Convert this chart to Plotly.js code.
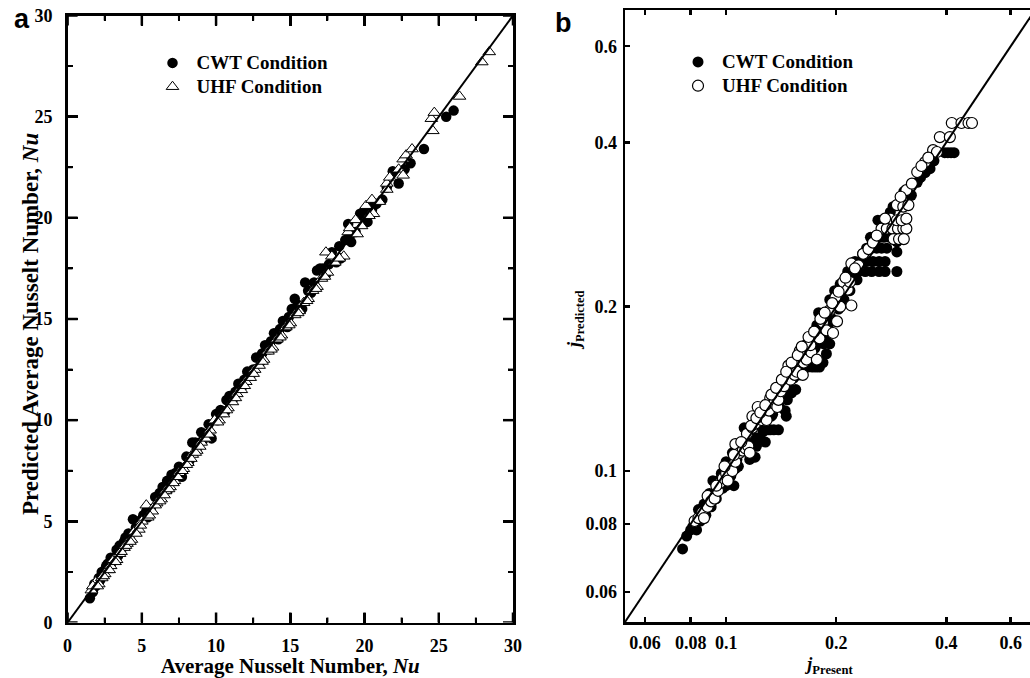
<!DOCTYPE html>
<html><head><meta charset="utf-8">
<script src="https://cdn.plot.ly/plotly-3.0.1.min.js"></script>
<style>html,body{margin:0;padding:0;overflow:hidden;background:#fff}#chart{width:1040px;height:678px}</style>
</head><body><div id="chart"></div>
<script>
// ---- Panel a: average Nusselt number (measured vs predicted) ----
const nuCwtMeasured = [1.5,1.7,1.9,2.1,2.3,2.5,2.7,2.9,3.1,3.3,3.5,3.7,3.9,4.1,4.4,4.6,4.8,5.0,5.3,5.6,5.9,6.2,6.5,6.7,7.0,7.3,7.7,8.0,8.4,8.7,9.0,9.3,9.7,10.0,10.3,10.6,10.9,11.2,11.5,11.8,12.1,12.4,12.7,13.0,13.3,13.6,13.9,14.2,14.5,14.8,15.1,15.3,15.6,15.8,16.0,16.4,16.8,17.0,17.4,17.8,18.1,18.4,18.7,18.9,19.1,19.4,19.7,19.9,20.2,20.5,20.8,21.2,21.5,21.9,22.3,22.7,23.1,24.0,25.5,26.0,
  1.8,2.2,2.6,3.0,3.4,3.8,4.2,5.1,5.4,6.1,6.4,6.8,7.1,7.5,8.2,8.6,9.1,9.5,10.1,10.7,11.3,11.9,12.5,13.1,13.7,14.3,14.9,15.5,16.2,16.6,17.2,17.6,18.3,19.0,20.0,20.6];
const nuCwtPredicted = [1.2,1.5,1.8,2.2,2.5,2.6,2.9,3.2,3.2,3.6,3.8,3.7,4.2,4.4,5.1,4.7,5.0,5.1,5.5,5.6,6.2,6.4,6.5,7.0,7.3,7.4,7.2,8.2,8.9,8.6,9.4,9.3,9.1,10.3,10.5,10.4,11.2,11.1,11.8,11.7,12.4,12.3,13.1,12.9,13.7,13.5,14.3,14.0,14.9,14.6,15.5,16.0,15.4,15.5,16.8,16.3,17.4,17.5,17.2,18.3,17.8,18.0,18.9,19.7,18.8,19.3,20.2,20.1,19.8,20.4,20.7,20.9,21.5,22.3,21.7,22.4,22.7,23.4,25.0,25.3,
  1.9,2.1,2.8,3.0,3.3,4.0,4.1,5.3,5.2,6.0,6.7,6.6,7.3,7.7,8.0,8.9,9.0,9.8,10.0,11.0,11.4,12.0,12.5,13.3,13.9,14.5,15.1,15.7,16.4,16.8,17.5,17.7,18.6,19.1,20.3,20.6];
const nuUhfMeasured = [1.6,1.9,2.1,2.3,2.5,2.7,2.9,3.1,3.3,3.5,3.8,4.0,4.3,4.5,4.8,5.0,5.3,5.4,5.7,6.0,6.3,6.6,6.9,7.2,7.5,7.8,8.1,8.4,8.7,9.0,9.3,9.6,9.9,10.2,10.5,10.8,11.1,11.4,11.7,12.0,12.3,12.6,12.9,13.2,13.5,13.8,14.1,14.4,14.7,15.0,15.3,15.6,15.9,16.2,16.5,16.8,17.1,17.4,17.5,17.8,18.0,18.6,18.9,19.0,19.4,19.5,20.1,20.5,20.6,21.5,21.5,21.7,22.3,22.6,22.6,22.8,23.2,24.5,24.6,24.7,26.4,27.9,28.4,
  1.7,2.0,2.4,2.8,3.2,3.6,3.9,4.2,4.6,4.9,5.5,5.9,6.2,6.5,6.8,7.1,7.4,7.7,8.0,8.3,8.6,8.9,9.5,10.1,10.7,11.3,11.9,12.5,13.1,13.7,14.3,14.9,15.5,16.1,16.7,17.3,18.3,19.8,20.3,21.0];
const nuUhfPredicted = [1.6,2.0,1.9,2.2,2.4,2.6,2.8,3.1,3.1,3.4,3.7,3.9,4.1,4.5,4.6,5.0,5.8,5.2,5.5,5.9,6.1,6.5,6.7,7.0,7.4,7.6,7.9,8.3,8.5,8.9,9.1,9.5,10.0,10.0,10.3,10.6,10.9,11.3,11.5,11.9,12.1,12.5,12.7,13.0,13.4,13.6,14.0,14.2,14.6,14.8,15.2,15.4,15.8,16.0,16.4,16.6,17.0,18.3,17.3,18.1,17.8,18.1,19.3,19.5,19.9,19.2,20.6,20.9,20.2,21.4,21.7,22.0,22.4,22.1,22.9,23.1,23.4,24.9,24.3,25.2,26.0,27.7,28.2,
  1.8,1.8,2.3,2.6,3.0,3.5,3.8,4.0,4.4,4.8,5.3,5.8,6.0,6.3,6.6,6.9,7.2,7.5,7.8,8.1,8.4,8.7,9.3,9.9,10.5,11.1,11.7,12.3,12.9,13.5,14.1,14.7,15.3,15.9,16.5,17.1,18.0,19.6,20.1,20.8];
const nuDiagonal = [0, 30];
const nuRange = [0, 30];
const nuTicks = [0, 5, 10, 15, 20, 25, 30];
const nuMinorTicks = [2.5, 7.5, 12.5, 17.5, 22.5, 27.5];

// ---- Panel b: j factor (present vs predicted), log-log ----
const jCwtPresent = [0.076,0.078,0.080,0.081,0.083,0.084,0.085,0.087,0.088,0.090,0.091,0.092,0.094,0.095,0.097,0.098,0.100,0.103,0.105,0.100,0.104,0.106,0.108,0.110,0.112,0.114,0.116,0.118,0.120,0.121,0.118,0.124,0.126,0.128,0.130,0.132,0.135,0.139,0.133,0.137,0.141,0.145,0.146,0.143,0.148,0.150,0.151,0.155,0.152,0.157,0.160,0.163,0.167,0.172,0.176,0.180,0.159,0.162,0.168,0.184,0.166,0.172,0.178,0.185,0.192,0.188,0.177,0.181,0.188,0.181,0.179,0.192,0.200,0.210,0.198,0.205,0.212,0.215,0.222,0.230,0.240,0.250,0.262,0.272,0.293,0.225,0.232,0.242,0.252,0.262,0.272,0.293,0.242,0.250,0.258,0.266,0.275,0.293,0.255,0.262,0.270,0.280,0.260,0.268,0.276,0.285,0.281,0.292,0.300,0.321,0.316,0.333,0.340,0.361,0.370,0.396,0.404,0.412,0.420,
  0.102,0.107,0.113,0.119,0.123,0.127,0.134,0.140,0.147,0.153,0.158,0.165,0.170,0.175,0.183,0.190,0.195,0.203,0.218,0.228,0.236,0.248,0.286,0.306,0.350];
const jCwtPredicted = [0.072,0.076,0.078,0.079,0.078,0.085,0.081,0.087,0.083,0.091,0.086,0.096,0.089,0.096,0.099,0.093,0.094,0.098,0.094,0.104,0.108,0.101,0.102,0.112,0.120,0.112,0.105,0.106,0.106,0.111,0.116,0.122,0.118,0.113,0.119,0.119,0.119,0.119,0.126,0.131,0.135,0.129,0.126,0.139,0.146,0.141,0.139,0.141,0.155,0.158,0.157,0.155,0.155,0.155,0.155,0.155,0.153,0.163,0.165,0.158,0.171,0.171,0.171,0.171,0.171,0.164,0.185,0.179,0.176,0.194,0.195,0.206,0.206,0.206,0.214,0.220,0.222,0.232,0.232,0.232,0.232,0.232,0.232,0.232,0.232,0.242,0.242,0.242,0.242,0.242,0.242,0.252,0.256,0.256,0.256,0.256,0.256,0.263,0.268,0.268,0.268,0.268,0.288,0.288,0.288,0.288,0.298,0.307,0.312,0.320,0.322,0.338,0.345,0.358,0.370,0.383,0.383,0.383,0.383,
  0.097,0.105,0.109,0.113,0.115,0.121,0.127,0.131,0.135,0.148,0.150,0.160,0.163,0.168,0.175,0.184,0.190,0.198,0.214,0.224,0.250,0.268,0.305,0.325,0.352];
const jUhfPresent = [0.082,0.084,0.086,0.087,0.089,0.089,0.091,0.093,0.095,0.096,0.098,0.100,0.101,0.103,0.104,0.106,0.106,0.109,0.111,0.113,0.115,0.116,0.114,0.118,0.118,0.120,0.122,0.125,0.127,0.129,0.131,0.132,0.135,0.138,0.139,0.141,0.144,0.148,0.150,0.153,0.154,0.156,0.159,0.162,0.163,0.166,0.171,0.170,0.177,0.180,0.184,0.188,0.192,0.196,0.199,0.201,0.205,0.209,0.215,0.218,0.220,0.220,0.230,0.237,0.245,0.252,0.266,0.275,0.285,0.295,0.305,0.311,0.287,0.297,0.306,0.281,0.293,0.302,0.311,0.293,0.305,0.315,0.311,0.333,0.350,0.368,0.377,0.384,0.409,0.414,0.440,0.460,0.470,
  0.094,0.099,0.105,0.110,0.117,0.121,0.124,0.128,0.133,0.137,0.142,0.146,0.151,0.157,0.161,0.168,0.174,0.181,0.186,0.195,0.203,0.212,0.225,0.258,0.272,0.300,0.322,0.342,0.357];
const jUhfPredicted = [0.081,0.082,0.084,0.082,0.086,0.090,0.088,0.089,0.092,0.095,0.097,0.099,0.096,0.102,0.100,0.104,0.112,0.108,0.109,0.110,0.111,0.108,0.117,0.120,0.126,0.122,0.131,0.124,0.127,0.124,0.129,0.136,0.133,0.131,0.135,0.140,0.143,0.156,0.147,0.157,0.150,0.152,0.166,0.150,0.158,0.160,0.165,0.170,0.160,0.175,0.187,0.181,0.197,0.179,0.208,0.188,0.200,0.222,0.215,0.222,0.201,0.240,0.238,0.250,0.255,0.262,0.278,0.278,0.278,0.278,0.278,0.278,0.266,0.266,0.266,0.290,0.288,0.288,0.290,0.307,0.305,0.307,0.327,0.353,0.368,0.387,0.384,0.409,0.409,0.434,0.434,0.434,0.434,
  0.094,0.102,0.107,0.113,0.121,0.125,0.128,0.132,0.138,0.142,0.147,0.152,0.158,0.163,0.169,0.176,0.180,0.190,0.195,0.203,0.213,0.226,0.235,0.270,0.290,0.318,0.336,0.362,0.375];
const jDiagonal = [0.05, 0.76];
const jBounds = [0.0529, 0.699];
const jTicks = [0.06, 0.08, 0.1, 0.2, 0.4, 0.6];
const jTickText = ['0.06', '0.08', '0.1', '0.2', '0.4', '0.6'];
const jDecadeTicks = [0.1];

const SERIF = 'Liberation Serif';
const tickFont = {family: SERIF, size: 18, weight: 'bold', color: '#000'};
const titleFont = {family: SERIF, size: 21, weight: 'bold', color: '#000'};
const W = 1040, H = 678;
const aXDom = [67.6 / W, 513 / W], aYDom = [(H - 622.5) / H, (H - 15.5) / H];
const bXDom = [625 / W, 1035 / W], bYDom = [(H - 622) / H, (H - 10) / H];

const traces = [
  {x: nuCwtMeasured, y: nuCwtPredicted, xaxis: 'x', yaxis: 'y', mode: 'markers', type: 'scatter',
   name: '<span style="font-size:19px">CWT Condition</span>', legend: 'legend',
   marker: {symbol: 'circle', size: 10.5, color: '#000', line: {color: '#000', width: 0}}},
  {x: nuUhfMeasured, y: nuUhfPredicted, xaxis: 'x', yaxis: 'y', mode: 'markers', type: 'scatter',
   name: '<span style="font-size:19px">UHF Condition</span>', legend: 'legend',
   marker: {symbol: 'triangle-up', size: 11, color: '#fff', line: {color: '#000', width: 1}}},
  {x: nuDiagonal, y: nuDiagonal, xaxis: 'x', yaxis: 'y', mode: 'lines', type: 'scatter',
   showlegend: false, line: {color: '#000', width: 2}},
  {x: jCwtPresent, y: jCwtPredicted, xaxis: 'x2', yaxis: 'y2', mode: 'markers', type: 'scatter',
   name: '<span style="font-size:19px">CWT Condition</span>', legend: 'legend2',
   marker: {symbol: 'circle', size: 11, color: '#000', line: {color: '#000', width: 0}}},
  {x: jUhfPresent, y: jUhfPredicted, xaxis: 'x2', yaxis: 'y2', mode: 'markers', type: 'scatter',
   name: '<span style="font-size:19px">UHF Condition</span>', legend: 'legend2',
   marker: {symbol: 'circle', size: 11, color: '#fff', line: {color: '#000', width: 1.2}}},
  {x: jDiagonal, y: jDiagonal, xaxis: 'x2', yaxis: 'y2', mode: 'lines', type: 'scatter',
   showlegend: false, cliponaxis: false, line: {color: '#000', width: 2}}
];

// Inward tick marks drawn as thin filled rectangles (non-zero area), anchored at tick values on all four sides.
function tickRects(xa, ya, xDom, yDom, vals, lenPx, widthPx, isLog) {
  const plotW = (xDom[1] - xDom[0]) * W, plotH = (yDom[1] - yDom[0]) * H;
  const fx = lenPx / plotW, fy = lenPx / plotH, hw = widthPx / 2;
  const base = {type: 'rect', fillcolor: '#000', line: {width: 0}, layer: 'above'};
  const out = [];
  vals.forEach(v => {
    const c = isLog ? Math.log10(v) : v;
    out.push(Object.assign({}, base, {xref: xa, yref: ya + ' domain', xsizemode: 'pixel', xanchor: c, x0: -hw, x1: hw, y0: 0, y1: fy}));
    out.push(Object.assign({}, base, {xref: xa, yref: ya + ' domain', xsizemode: 'pixel', xanchor: c, x0: -hw, x1: hw, y0: 1 - fy, y1: 1}));
    out.push(Object.assign({}, base, {xref: xa + ' domain', yref: ya, ysizemode: 'pixel', yanchor: c, y0: -hw, y1: hw, x0: 0, x1: fx}));
    out.push(Object.assign({}, base, {xref: xa + ' domain', yref: ya, ysizemode: 'pixel', yanchor: c, y0: -hw, y1: hw, x0: 1 - fx, x1: 1}));
  });
  return out;
}
const jMinorLabelled = jTicks.filter(v => jDecadeTicks.indexOf(v) < 0);
const shapes = [].concat(
  tickRects('x', 'y', aXDom, aYDom, nuTicks, 10, 2.5, false),
  tickRects('x', 'y', aXDom, aYDom, nuMinorTicks, 5, 2, false),
  tickRects('x2', 'y2', bXDom, bYDom, jDecadeTicks, 10, 2.5, true),
  tickRects('x2', 'y2', bXDom, bYDom, jMinorLabelled, 5, 2.5, true)
);

const frame = {showline: true, linewidth: 2.5, linecolor: '#000', mirror: 'ticks', showgrid: false,
  zeroline: false, ticks: 'inside', tickcolor: '#000', tickwidth: 2.5, tickfont: tickFont};
const jRange = [Math.log10(jBounds[0]), Math.log10(jBounds[1])];
const nuMinor = {tickmode: 'array', tickvals: nuMinorTicks, ticks: 'inside', ticklen: 5, tickwidth: 2, tickcolor: '#000', showgrid: false};

const layout = {
  width: W, height: H, margin: {l: 0, r: 0, t: 0, b: 0},
  paper_bgcolor: '#fff', plot_bgcolor: '#fff', showlegend: true,
  xaxis: Object.assign({}, frame, {
    domain: aXDom, range: nuRange, anchor: 'y', ticklen: 10, minor: nuMinor,
    tickmode: 'array', tickvals: nuTicks, ticklabelstandoff: 5,
    title: {text: 'Average Nusselt Number, <i>Nu</i>', font: titleFont, standoff: 6}
  }),
  yaxis: Object.assign({}, frame, {
    domain: aYDom, range: nuRange, anchor: 'x', ticklen: 10, minor: nuMinor,
    tickmode: 'array', tickvals: nuTicks, ticklabelstandoff: 9
  }),
  xaxis2: Object.assign({}, frame, {
    domain: bXDom, type: 'log', range: jRange, anchor: 'y2', ticklen: 5,
    tickmode: 'array', tickvals: jTicks, ticktext: jTickText, ticklabelstandoff: 3,
    title: {text: '<i>j</i><sub>Present</sub>', font: {family: SERIF, size: 18, weight: 'bold', color: '#000'}, standoff: 6}
  }),
  yaxis2: Object.assign({}, frame, {
    domain: bYDom, type: 'log', range: jRange, anchor: 'x2', ticklen: 5,
    tickmode: 'array', tickvals: jTicks, ticktext: jTickText, ticklabelstandoff: 2
  }),
  shapes: shapes,
  legend: {x: 148.5 / W, y: (H - 46) / H, xanchor: 'left', yanchor: 'top', bgcolor: 'rgba(0,0,0,0)', itemwidth: 38,
    borderwidth: 0, font: {family: SERIF, size: 16, weight: 'bold', color: '#000'}},
  legend2: {x: 674 / W, y: (H - 45) / H, xanchor: 'left', yanchor: 'top', bgcolor: 'rgba(0,0,0,0)', itemwidth: 38,
    borderwidth: 0, font: {family: SERIF, size: 16, weight: 'bold', color: '#000'}},
  annotations: [
    {text: 'Predicted Average Nusselt Number, <i>Nu</i>', xref: 'paper', yref: 'paper', x: 30 / W, y: (H - 324) / H,
     xanchor: 'center', yanchor: 'middle', textangle: -90, showarrow: false,
     font: {family: SERIF, size: 23, weight: 'bold', color: '#000'}},
    {text: '<i>j</i><sub>Predicted</sub>', xref: 'paper', yref: 'paper', x: 575 / W, y: (H - 320) / H,
     xanchor: 'center', yanchor: 'middle', textangle: -90, showarrow: false,
     font: {family: SERIF, size: 18, weight: 'bold', color: '#000'}},
    {text: 'a', xref: 'paper', yref: 'paper', x: 22 / W, y: (H - 19) / H, xanchor: 'center', yanchor: 'middle',
     showarrow: false, font: {family: 'Liberation Sans', size: 27, weight: 'bold', color: '#000'}},
    {text: 'b', xref: 'paper', yref: 'paper', x: 563 / W, y: (H - 23) / H, xanchor: 'center', yanchor: 'middle',
     showarrow: false, font: {family: 'Liberation Sans', size: 27, weight: 'bold', color: '#000'}}
  ]
};

Plotly.newPlot('chart', traces, layout, {staticPlot: true, displayModeBar: false});
</script>
</body></html>
